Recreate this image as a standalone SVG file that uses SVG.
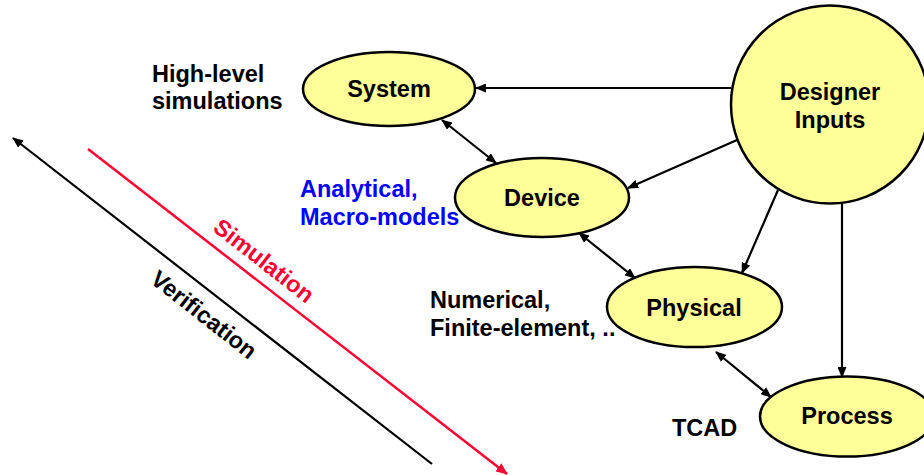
<svg xmlns="http://www.w3.org/2000/svg" width="924" height="475" viewBox="0 0 924 475">
  <defs>
    <marker id="arrow" markerUnits="userSpaceOnUse" markerWidth="11" markerHeight="9" refX="10" refY="4.5" orient="auto-start-reverse">
      <path d="M0,0 L11,4.5 L0,9 z" fill="#000"/>
    </marker>
    <marker id="arrowRed" markerUnits="userSpaceOnUse" markerWidth="12" markerHeight="10" refX="11" refY="5" orient="auto">
      <path d="M0,0 L12,5 L0,10 z" fill="#FF0033"/>
    </marker>
    <style>
      .node { fill: #FFFF99; stroke: #000; stroke-width: 2.5; }
      .label { font-family: "Liberation Sans", Arial, sans-serif; font-weight: bold; font-size: 23.5px; }
      .center { text-anchor: middle; }
      .edge { stroke: #000; stroke-width: 2.2; fill: none; }
      .one { marker-end: url(#arrow); }
      .two { marker-start: url(#arrow); marker-end: url(#arrow); }
    </style>
  </defs>

  <!-- connectors -->
  <g id="connectors">
    <line class="edge one" x1="731" y1="88" x2="476" y2="88"/>
    <line class="edge two" x1="442" y1="120" x2="496" y2="163"/>
    <line class="edge one" x1="737" y1="140" x2="628" y2="188"/>
    <line class="edge two" x1="579" y1="233" x2="635" y2="278"/>
    <line class="edge one" x1="778" y1="190" x2="742" y2="273"/>
    <line class="edge one" x1="842" y1="203" x2="842" y2="377"/>
    <line class="edge two" x1="716" y1="352" x2="771" y2="397"/>
  </g>

  <!-- nodes -->
  <g id="system">
    <ellipse class="node" cx="389" cy="89" rx="86" ry="37"/>
    <text class="label center" x="389" y="97">System</text>
  </g>
  <g id="device">
    <ellipse class="node" cx="542" cy="197.5" rx="87" ry="39.5"/>
    <text class="label center" x="542" y="206">Device</text>
  </g>
  <g id="physical">
    <ellipse class="node" cx="694.5" cy="307" rx="87.5" ry="40"/>
    <text class="label center" x="694" y="316">Physical</text>
  </g>
  <g id="process">
    <ellipse class="node" cx="847" cy="416.5" rx="87" ry="40"/>
    <text class="label center" x="847" y="424">Process</text>
  </g>
  <g id="designer-inputs">
    <circle class="node" cx="830" cy="104.5" r="99"/>
    <text class="label center" x="830" y="100">Designer</text>
    <text class="label center" x="830" y="128">Inputs</text>
  </g>

  <!-- side annotations -->
  <g id="annotations">
    <text class="label" x="152" y="82">High-level</text>
    <text class="label" x="152" y="109">simulations</text>
    <text class="label" x="300" y="197" fill="#0000FF">Analytical,</text>
    <text class="label" x="300" y="225" fill="#0000FF">Macro-models</text>
    <text class="label" x="430" y="308">Numerical,</text>
    <text class="label" x="430" y="336">Finite-element, ..</text>
    <text class="label" x="672" y="436">TCAD</text>
  </g>

  <!-- simulation / verification direction arrows -->
  <g id="flow-arrows">
    <line x1="432" y1="464" x2="13" y2="138" stroke="#000" stroke-width="2.2" marker-end="url(#arrow)"/>
    <line x1="88" y1="149" x2="507" y2="474" stroke="#FF0033" stroke-width="2.5" marker-end="url(#arrowRed)"/>
    <text class="label center" x="259" y="267" fill="#FF0033" transform="rotate(38 259 267)">Simulation</text>
    <text class="label center" x="199" y="321" transform="rotate(38 199 321)">Verification</text>
  </g>
</svg>
